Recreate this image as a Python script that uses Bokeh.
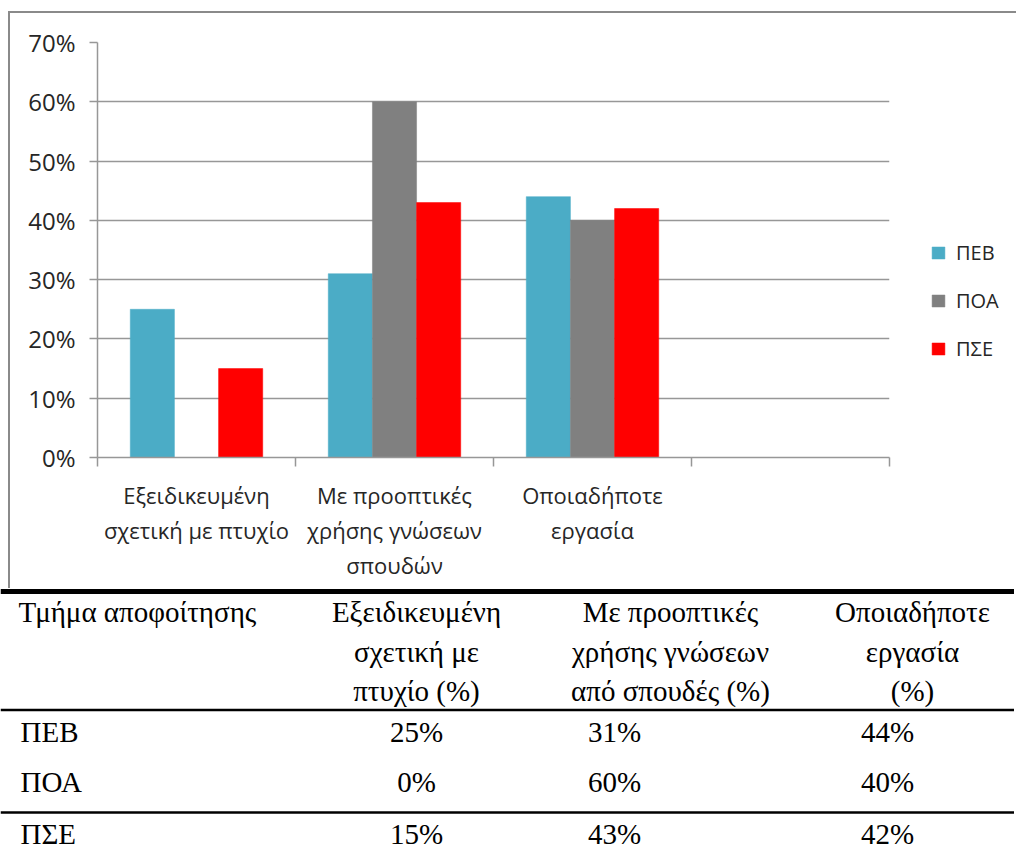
from bokeh.plotting import figure
from bokeh.models import Range1d, FixedTicker, NumeralTickFormatter, Legend, LegendItem, ColumnDataSource, Span
from bokeh.layouts import column
from bokeh.transform import dodge
from bokeh.core.properties import value
from bokeh.embed import file_html
from bokeh.resources import INLINE

# ---------------- data ----------------
categories = ["Εξειδικευμένη\nσχετική με πτυχίο",
              "Με προοπτικές\nχρήσης γνώσεων\nσπουδών",
              "Οποιαδήποτε\nεργασία",
              ""]
series = ["ΠΕΒ", "ΠΟΑ", "ΠΣΕ"]
peb = [0.25, 0.31, 0.44]
poa = [0.00, 0.60, 0.40]
pse = [0.15, 0.43, 0.42]
y_ticks = [0.0, 0.1, 0.2, 0.3, 0.4, 0.5, 0.6, 0.7]
colors = ["#4BACC6", "#808080", "#FF0000"]

table_corner = "Τμήμα αποφοίτησης"
table_headers = [["Εξειδικευμένη", "σχετική με", "πτυχίο (%)"],
                 ["Με προοπτικές", "χρήσης γνώσεων", "από σπουδές (%)"],
                 ["Οποιαδήποτε", "εργασία", "(%)"]]

# ---------------- chart ----------------
SANS = "Open Sans"
GRID = "#979797"
TXT = "#262626"

n_cat = len(categories)
centers = [i + 0.5 for i in range(n_cat)]
bounds = [i for i in range(n_cat + 1)]

p = figure(frame_width=790, frame_height=413,
           min_border_left=87, min_border_right=127, min_border_top=29, min_border_bottom=133,
           x_range=Range1d(0, n_cat), y_range=Range1d(0, y_ticks[-1]),
           output_backend="svg", toolbar_location=None)
p.frame_align = False
p.margin = (11, 0, 0, 8)
p.outline_line_color = None
p.border_fill_color = "white"
p.styles = {"border-left": "2px solid #8a8a8a", "border-top": "2px solid #8a8a8a"}

src = ColumnDataSource(dict(x=centers[:len(peb)], peb=peb, poa=poa, pse=pse))
bw = 0.223
renderers = []
for k, (col, s) in enumerate(zip(["peb", "poa", "pse"], series)):
    r = p.vbar(x=dodge("x", (k - 1) * bw, range=p.x_range), top=col, bottom=0, width=bw,
               source=src, fill_color=colors[k], line_color=colors[k], line_width=0.5)
    renderers.append(r)

p.xgrid.visible = False
p.ygrid.grid_line_color = GRID
p.ygrid.grid_line_width = 1.5

p.yaxis.ticker = FixedTicker(ticks=y_ticks)
p.yaxis.formatter = NumeralTickFormatter(format="0%")
p.yaxis.axis_line_color = GRID
p.yaxis.axis_line_width = 1.5
p.yaxis.major_tick_line_color = GRID
p.yaxis.major_tick_line_width = 1.5
p.yaxis.major_tick_out = 8
p.yaxis.major_tick_in = 0
p.yaxis.minor_tick_line_color = None
p.yaxis.major_label_standoff = 14
p.yaxis.major_label_text_font = SANS
p.yaxis.major_label_text_font_size = "24px"
p.yaxis.major_label_text_color = TXT

p.xaxis.ticker = FixedTicker(ticks=centers, minor_ticks=bounds)
p.xaxis.major_label_overrides = {c: lab for c, lab in zip(centers, categories)}
p.xaxis.axis_line_color = GRID
p.xaxis.axis_line_width = 1.5
p.xaxis.major_tick_line_color = None
p.xaxis.major_tick_out = 0
p.xaxis.major_tick_in = 0
p.xaxis.minor_tick_line_color = GRID
p.xaxis.minor_tick_line_width = 1.5
p.xaxis.minor_tick_out = 9
p.xaxis.minor_tick_in = 0
p.xaxis.major_label_standoff = 13
p.xaxis.major_label_text_font = SANS
p.xaxis.major_label_text_font_size = "22px"
p.xaxis.major_label_text_color = TXT
p.xaxis.major_label_text_line_height = 1.17

legend = Legend(items=[LegendItem(label=s, renderers=[r]) for s, r in zip(series, renderers)],
                location=(41, 95), orientation="vertical",
                border_line_color=None, background_fill_alpha=0,
                padding=0, margin=0, spacing=21,
                glyph_width=16, glyph_height=15, label_height=16, label_standoff=10,
                label_text_font=SANS, label_text_font_size="20px", label_text_color=TXT)
p.add_layout(legend, "right")

# ---------------- table ----------------
TH = 268
t = figure(width=1014, height=TH, x_range=Range1d(0, 1014), y_range=Range1d(TH, 0),
           output_backend="svg", toolbar_location=None, min_border=0,
           x_axis_type=None, y_axis_type=None)
t.frame_align = False
t.grid.visible = False
t.outline_line_color = None

SERIF = value("Liberation Serif")
FS = "29px"

t.add_layout(Span(location=3, dimension="width", line_color="black", line_width=5))
t.add_layout(Span(location=121.5, dimension="width", line_color="black", line_width=2.5))
t.add_layout(Span(location=224, dimension="width", line_color="black", line_width=2.5))

head_y = [23, 63, 102]
head_x = [416, 670, 912]
val_x = [416, 614, 887]
row_y = [143, 193, 245]

t.text(x=[18], y=[head_y[0]], text=[table_corner], text_font=SERIF, text_font_size=FS,
       text_align="left", text_baseline="middle", text_color="black")
hx, hy, ht = [], [], []
for cx, lines in zip(head_x, table_headers):
    for ly, line in zip(head_y, lines):
        hx.append(cx); hy.append(ly); ht.append(line)
t.text(x=hx, y=hy, text=ht, text_font=SERIF, text_font_size=FS,
       text_align="center", text_baseline="middle", text_color="black")

t.text(x=[20] * len(series), y=row_y, text=series, text_font=SERIF, text_font_size=FS,
       text_align="left", text_baseline="middle", text_color="black")
vx, vy, vt = [], [], []
for ry, vals in zip(row_y, [peb, poa, pse]):
    for cx, v in zip(val_x, vals):
        vx.append(cx); vy.append(ry); vt.append(f"{round(v * 100)}%")
t.text(x=vx, y=vy, text=vt, text_font=SERIF, text_font_size=FS,
       text_align="center", text_baseline="middle", text_color="black")

layout = column(p, t)
open("out.html", "w").write(file_html(layout, INLINE))
